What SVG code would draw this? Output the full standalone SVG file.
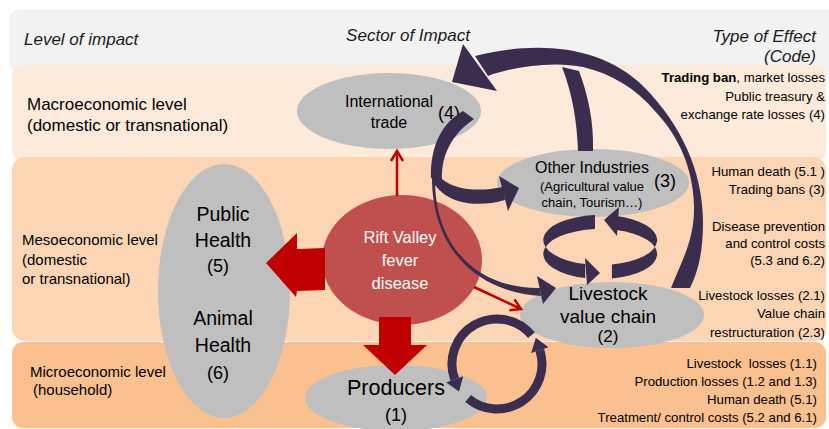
<svg xmlns="http://www.w3.org/2000/svg" width="829" height="429" viewBox="0 0 829 429">
<defs>
<style>
.t{font-family:"Liberation Sans",Arial,sans-serif;fill:#000}
.hdr{font-size:17px;font-style:italic;fill:#1a1a1a}
.lvl{font-size:15px}
.mac{font-size:17px}
.rt{font-size:13.2px;text-anchor:end}
.m{text-anchor:middle}
.node{fill:#bfbfbf}
.dk{fill:#3a2d4e}
.ring{fill:none;stroke:#3a2d4e;stroke-width:9}
.red{fill:#c00000}
.redl{stroke:#c00000;stroke-width:2.5;fill:none;marker-end:url(#rh)}
.w{fill:#fff}
</style>
<marker id="rh" markerUnits="userSpaceOnUse" markerWidth="16" markerHeight="16" viewBox="0 0 16 16" refX="12" refY="8" orient="auto">
<path d="M2,2 L12,8 L2,14" fill="none" stroke="#c00000" stroke-width="2.5"/>
</marker>
</defs>

<g id="bands">
<rect x="9" y="10" width="830" height="62" rx="10" fill="#f2f2f2"/>
<rect x="12" y="65" width="814" height="96" rx="11" fill="#fdeada"/>
<rect x="12" y="157" width="814" height="184" rx="13" fill="#fcd5b5"/>
<rect x="12" y="342" width="814" height="86" rx="11" fill="#fac090"/>
</g>

<g id="headers">
<text class="t hdr" x="24" y="45">Level of impact</text>
<text class="t hdr m" x="408" y="41">Sector of Impact</text>
<text class="t hdr" x="816" y="42" text-anchor="end">Type of Effect</text>
<text class="t hdr" x="816" y="62" text-anchor="end">(Code)</text>
</g>

<g id="level-labels">
<text class="t mac" x="27" y="110">Macroeconomic level</text>
<text class="t mac" x="27" y="131">(domestic or transnational)</text>
<text class="t lvl" x="22" y="245">Mesoeconomic level</text>
<text class="t lvl" x="22" y="265">(domestic</text>
<text class="t lvl" x="22" y="284">or transnational)</text>
<text class="t lvl" x="30" y="377">Microeconomic level</text>
<text class="t lvl" x="33" y="395">(household)</text>
</g>

<g id="effects">
<text class="t rt" x="825" y="82"><tspan font-weight="bold">Trading ban</tspan>, market losses</text>
<text class="t rt" x="825" y="100.5">Public treasury &amp;</text>
<text class="t rt" x="825" y="119">exchange rate losses (4)</text>
<text class="t rt" x="825" y="176">Human death (5.1 )</text>
<text class="t rt" x="825" y="194">Trading bans (3)</text>
<text class="t rt" x="825" y="231">Disease prevention</text>
<text class="t rt" x="825" y="248">and control costs</text>
<text class="t rt" x="825" y="265">(5.3 and 6.2)</text>
<text class="t rt" x="825" y="300">Livestock losses (2.1)</text>
<text class="t rt" x="825" y="318">Value chain</text>
<text class="t rt" x="825" y="337">restructuration (2.3)</text>
<text class="t rt" x="817" y="368" style="white-space:pre">Livestock  losses (1.1)</text>
<text class="t rt" x="817" y="386">Production losses (1.2 and 1.3)</text>
<text class="t rt" x="817" y="404">Human death (5.1)</text>
<text class="t rt" x="817" y="422">Treatment/ control costs (5.2 and 6.1)</text>
</g>

<g id="node-international-trade">
<ellipse class="node" cx="389" cy="111" rx="92" ry="38"/>
<text class="t m" x="389" y="107" font-size="16">International</text>
<text class="t m" x="389" y="128" font-size="16">trade</text>
<text class="t m" x="449" y="119" font-size="18">(4)</text>
</g>

<g id="node-other-industries">
<ellipse class="node" cx="593" cy="183" rx="96" ry="34"/>
<text class="t m" x="592" y="173" font-size="16">Other Industries</text>
<text class="t m" x="665" y="187" font-size="18">(3)</text>
<text class="t m" x="592" y="191" font-size="13">(Agricultural value</text>
<text class="t m" x="592" y="207" font-size="13">chain, Tourism…)</text>
</g>

<g id="node-health">
<ellipse class="node" cx="224" cy="291" rx="66" ry="127"/>
<text class="t m" x="223" y="221" font-size="19.5">Public</text>
<text class="t m" x="223" y="247" font-size="19.5">Health</text>
<text class="t m" x="218" y="272" font-size="18">(5)</text>
<text class="t m" x="223" y="325" font-size="19.5">Animal</text>
<text class="t m" x="223" y="352" font-size="19.5">Health</text>
<text class="t m" x="218" y="379" font-size="18">(6)</text>
</g>

<g id="node-livestock">
<ellipse class="node" cx="612" cy="315" rx="92" ry="33"/>
<text class="t m" x="608" y="300" font-size="19">Livestock</text>
<text class="t m" x="608" y="323" font-size="19">value chain</text>
<text class="t m" x="608" y="342" font-size="17">(2)</text>
</g>

<g id="node-producers">
<ellipse class="node" cx="396" cy="398" rx="91" ry="33"/>
<text class="t m" x="396" y="395" font-size="21.5">Producers</text>
<text class="t m" x="396" y="421" font-size="18">(1)</text>
</g>

<g id="node-rvf">
<ellipse cx="402" cy="260" rx="80" ry="65" fill="#c0504d"/>
<text class="t m w" x="400" y="243" font-size="16.5" style="fill:#fff">Rift Valley</text>
<text class="t m w" x="400" y="266" font-size="16.5" style="fill:#fff">fever</text>
<text class="t m w" x="400" y="289" font-size="16.5" style="fill:#fff">disease</text>
</g>

<g id="connectors">
<!-- red arrows from disease -->
<polygon class="red" points="266,263 297,233 297,249 325,248 325,290 297,291 296,297"/>
<polygon class="red" points="379,317 411,317 411,345 427,345 395,375 363,345 379,345"/>
<line class="redl" x1="397" y1="196" x2="397" y2="151"/>
<line class="redl" x1="474" y1="287" x2="521" y2="309"/>

<!-- big arc livestock -> international trade -->
<path class="dk" d="M475,56 C530,42 600,42 645,88 C680,124 703,170 703,222 C703,252 698,272 690,288 L671,288 C681,262 695,240 694,205 C693,170 680,137 654,110 C635,88 612,74 583,67 C555,61 515,66 488,76 Z"/>
<polygon class="dk" points="452,82 463,44 497,91"/>
<!-- other industries -> arc -->
<path class="dk" d="M578,151 C577,120 572,93 562,67 L579,71 C588,95 594,122 593,151 Z"/>

<!-- international trade -> other industries / livestock -->
<path class="dk" d="M463,111 C443,122 430,145 431,178 L442,180 C441,155 452,134 474,119 Z"/>
<path class="dk" d="M431,176 C438,200 470,210 505,200 L503,187 C478,192 455,190 442,179 Z"/>
<polygon class="dk" points="499,176 508,211 519,188"/>
<path class="dk" d="M432,178 C432,248 476,292 541,296 L540,288 C478,289 435,247 435,180 Z"/>
<polygon class="dk" points="537,276 543,304 556,288"/>

<!-- ring other industries <-> livestock -->
<path class="dk" d="M595,215.1 A57 25 0 0 0 585.2,264.1 L585.2,278.1 A57 25 0 0 1 595,229.1 Z"/>
<polygon class="dk" points="585,258 587,285 600,273"/>
<path class="dk" d="M611.9,264.5 A57 25 0 0 0 616.7,216.1 L616.7,230.1 A57 25 0 0 1 611.9,278.5 Z"/>
<polygon class="dk" points="619,207 617,236 604,220"/>

<!-- ring livestock <-> producers -->
<path class="ring" d="M531.5,335.1 A45 45 0 0 0 454.7,379.4"/>
<polygon class="dk" points="446.2,382.5 463.2,376.3 459.1,391.6"/>
<path class="ring" d="M468.1,398.5 A45 45 0 0 0 539.8,350.1"/>
<polygon class="dk" points="548.4,347.3 531.2,352.9 535.8,337.7"/>
</g>
</svg>
